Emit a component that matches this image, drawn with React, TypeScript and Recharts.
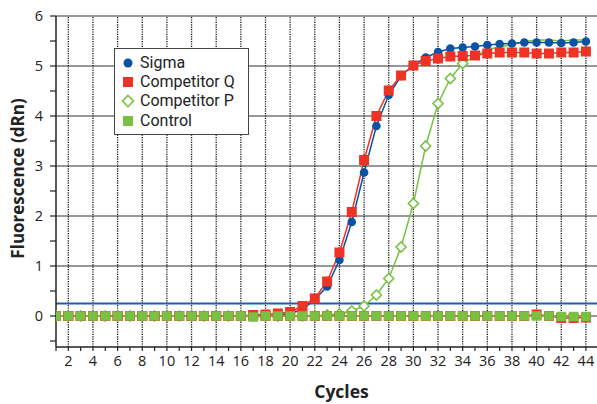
import React from 'react';
import { LineChart, Line, XAxis, YAxis, ReferenceLine, Legend, Label } from 'recharts';

const cycles = [1, 2, 3, 4, 5, 6, 7, 8, 9, 10, 11, 12, 13, 14, 15, 16, 17, 18, 19, 20, 21, 22, 23, 24, 25, 26, 27, 28, 29, 30, 31, 32, 33, 34, 35, 36, 37, 38, 39, 40, 41, 42, 43, 44];

const sigma = [0, 0, 0, 0, 0, 0, 0, 0, 0, 0, 0, 0, 0, 0, 0, 0, 0, 0, 0.02, 0.05, 0.13, 0.33, 0.59, 1.12, 1.88, 2.87, 3.8, 4.42, 4.8, 5.02, 5.17, 5.28, 5.35, 5.37, 5.39, 5.42, 5.44, 5.45, 5.47, 5.47, 5.47, 5.46, 5.47, 5.49];
const competitorQ = [0, 0, 0, 0, 0, 0, 0, 0, 0, 0, 0, 0, 0, 0, 0, 0, 0.02, 0.03, 0.05, 0.08, 0.2, 0.35, 0.69, 1.27, 2.08, 3.12, 4.0, 4.51, 4.81, 5.01, 5.1, 5.15, 5.19, 5.2, 5.21, 5.25, 5.27, 5.27, 5.27, 5.25, 5.25, 5.27, 5.27, 5.29];
const competitorP = [0, 0, 0, 0, 0, 0, 0, 0, 0, 0, 0, 0, 0, 0, 0, 0, 0, 0, 0, 0, 0, 0, 0.02, 0.04, 0.1, 0.2, 0.42, 0.75, 1.38, 2.25, 3.4, 4.25, 4.75, 5.05, 5.2, 5.33, 5.38, 5.43, 5.49, 5.52, 5.52, 5.5, 5.52, 5.52];
const competitorQNtc = [0, 0, 0, 0, 0, 0, 0, 0, 0, 0, 0, 0, 0, 0, 0, 0, 0, 0, 0, 0, 0, 0, 0, 0, 0, 0, 0, 0, 0, 0, 0, 0, 0, 0, 0, 0, 0, 0, 0, 0.03, 0, -0.04, -0.04, -0.03];
const control = [0, 0, 0, 0, 0, 0, 0, 0, 0, 0, 0, 0, 0, 0, 0, 0, -0.02, 0, 0, 0, 0, 0, 0, 0, 0, 0, 0, 0, 0, 0, 0, 0, 0, 0, 0, 0, 0, 0, 0, 0, 0, -0.01, -0.01, -0.01];

const threshold = 0.25;
const lastMarkedP = 34;

const yTicks = [-0.5, 0, 0.5, 1, 1.5, 2, 2.5, 3, 3.5, 4, 4.5, 5, 5.5, 6];
const yGrid = [0, 1, 2, 3, 4, 5, 6];
const xGrid = [2, 4, 6, 8, 10, 12, 14, 16, 18, 20, 22, 24, 26, 28, 30, 32, 34, 36, 38, 40, 42, 44];

const BLUE = '#0a52a3';
const RED = '#ec3325';
const GREEN = '#78c143';
const FONT = '"Open Sans", "Noto Sans", sans-serif';
const LEGEND_FONT = 'Roboto, "Liberation Sans", sans-serif';

const data = cycles.map((c, i) => ({
  cycle: c,
  sigma: sigma[i],
  competitorQ: competitorQ[i],
  competitorP: competitorP[i],
  competitorQNtc: competitorQNtc[i],
  control: control[i],
}));

const circleDot = (color: string) => (p: any) => (
  <circle key={`c${p.index}`} cx={p.cx} cy={p.cy} r={4.3} fill={color} stroke="none" />
);
const squareDot = (color: string, s: number) => (p: any) => (
  <rect key={`s${p.index}`} x={p.cx - s / 2} y={p.cy - s / 2} width={s} height={s} fill={color} stroke="none" />
);
const diamondDot = (color: string) => (p: any) => {
  if (p.payload && p.payload.cycle > lastMarkedP) return <g key={`d${p.index}`} />;
  const r = 5;
  return (
    <path
      key={`d${p.index}`}
      d={`M${p.cx},${p.cy - r}L${p.cx + r},${p.cy}L${p.cx},${p.cy + r}L${p.cx - r},${p.cy}Z`}
      fill="#fff"
      stroke={color}
      strokeWidth={1.6}
    />
  );
};

const legendItems = [
  { name: 'Sigma', icon: 'circle', color: BLUE },
  { name: 'Competitor Q', icon: 'square', color: RED },
  { name: 'Competitor P', icon: 'diamond', color: GREEN },
  { name: 'Control', icon: 'square', color: GREEN },
];

const LegendIcon = ({ icon, color }: { icon: string; color: string }) => (
  <svg width={14} height={14} style={{ display: 'block', flex: 'none' }}>
    {icon === 'circle' && <circle cx={7} cy={7} r={4.5} fill={color} />}
    {icon === 'square' && <rect x={2} y={2} width={10} height={10} fill={color} />}
    {icon === 'diamond' && <path d="M7,1.5L12.5,7L7,12.5L1.5,7Z" fill="#fff" stroke={color} strokeWidth={1.6} />}
  </svg>
);

const LegendBox = () => (
  <div
    style={{
      border: '1.5px solid #444',
      background: '#fff',
      padding: '4px 4px 4px 6px',
      fontFamily: LEGEND_FONT,
      fontSize: 16,
      lineHeight: '18px',
      color: '#222',
      boxSizing: 'border-box',
      width: 135,
    }}
  >
    {legendItems.map((it) => (
      <div key={it.name} style={{ display: 'flex', alignItems: 'center', height: 19.3 }}>
        <LegendIcon icon={it.icon} color={it.color} />
        <span style={{ marginLeft: 5, whiteSpace: 'nowrap' }}>{it.name}</span>
      </div>
    ))}
  </div>
);

const XTick = (p: any) => {
  const v = p.payload.value;
  if (v % 2 !== 0) return <g />;
  return (
    <text x={p.x} y={p.y} dy="0.71em" textAnchor="middle" fontFamily={FONT} fontSize={14.5} fill="#222">
      {v}
    </text>
  );
};

export default function App() {
  return (
    <div style={{ position: 'absolute', left: 0, top: 0 }}>
      <LineChart width={597} height={404} data={data} margin={{ top: 16, right: 0, bottom: 0, left: 0 }}>
        {yGrid.map((y) => (
          <ReferenceLine key={`hy${y}`} y={y} stroke="#333" strokeWidth={1.2} ifOverflow="extendDomain" />
        ))}
        {xGrid.map((x) => (
          <ReferenceLine key={`vx${x}`} x={x} stroke="#111" strokeWidth={1.3} strokeDasharray="1.2 1.2" />
        ))}
        <XAxis
          dataKey="cycle"
          type="number"
          domain={[1, 44.9]}
          ticks={cycles}
          interval={0}
          allowDataOverflow
          height={57}
          tickSize={4}
          tickMargin={5}
          tick={<XTick />}
          axisLine={{ stroke: '#222', strokeWidth: 1.5 }}
          tickLine={{ stroke: '#222', strokeWidth: 1.2 }}
        >
          <Label
            content={(props: any) => {
              const vb = props.viewBox;
              return (
                <text x={vb.x + vb.width / 2 + 15} y={398} textAnchor="middle" fontFamily={FONT} fontSize={17.5} fontWeight="bold" fill="#222">
                  Cycles
                </text>
              );
            }}
          />
        </XAxis>
        <YAxis
          type="number"
          domain={[-0.62, 6]}
          ticks={yTicks}
          interval={0}
          allowDataOverflow
          width={56}
          tickSize={6}
          tickMargin={7}
          tickFormatter={(v: number) => (Number.isInteger(v) ? String(v) : '')}
          tick={{ fontFamily: FONT, fontSize: 14.5, fill: '#222' }}
          axisLine={{ stroke: '#222', strokeWidth: 1.5 }}
          tickLine={{ stroke: '#222', strokeWidth: 1.2 }}
        >
          <Label
            content={(props: any) => {
              const vb = props.viewBox;
              const cy = vb.y + vb.height / 2 - 3;
              return (
                <text x={17} y={cy} transform={`rotate(-90 17 ${cy})`} textAnchor="middle" dominantBaseline="central" fontFamily={FONT} fontSize={17} fontWeight="bold" fill="#222">
                  Fluorescence (dRn)
                </text>
              );
            }}
          />
        </YAxis>
        <ReferenceLine y={threshold} stroke="#1f5fa8" strokeWidth={2.2} />
        <Line dataKey="competitorP" name="Competitor P" stroke={GREEN} strokeWidth={1.5} dot={diamondDot(GREEN)} isAnimationActive={false} legendType="none" />
        <Line dataKey="sigma" name="Sigma" stroke={BLUE} strokeWidth={1.5} dot={circleDot(BLUE)} isAnimationActive={false} legendType="none" />
        <Line dataKey="competitorQ" name="Competitor Q" stroke={RED} strokeWidth={1.5} dot={squareDot(RED, 10)} isAnimationActive={false} legendType="none" />
        <Line dataKey="competitorQNtc" name="Competitor Q NTC" stroke={RED} strokeWidth={1.5} dot={squareDot(RED, 10)} isAnimationActive={false} legendType="none" />
        <Line dataKey="control" name="Control" stroke={GREEN} strokeWidth={1.5} dot={squareDot(GREEN, 9.5)} isAnimationActive={false} legendType="none" />
        <Legend
          layout="vertical"
          verticalAlign="middle"
          align="center"
          content={() => <LegendBox />}
          wrapperStyle={{ position: 'absolute', left: 114, top: 48, width: 135 }}
        />
      </LineChart>
    </div>
  );
}
